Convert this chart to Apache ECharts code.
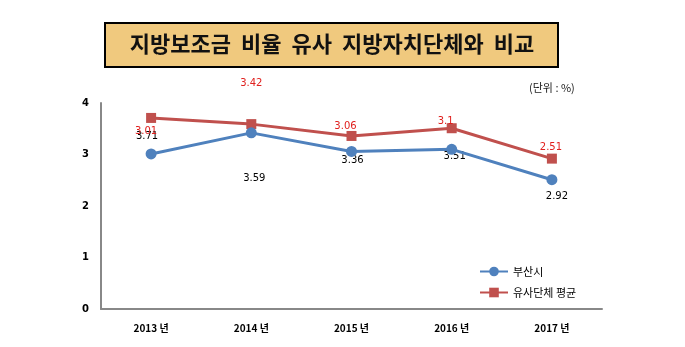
<!DOCTYPE html>
<html>
<head>
<meta charset="utf-8">
<script src="https://cdn.jsdelivr.net/npm/echarts@6/dist/echarts.min.js"></script>
<style>
html,body{margin:0;padding:0;background:#fff;}
#c{width:685px;height:347px;}
</style>
</head>
<body>
<div id="c"></div>
<script>
const categories = ['2013 년', '2014 년', '2015 년', '2016 년', '2017 년'];
const busanValues = [3.01, 3.42, 3.06, 3.1, 2.51];
const similarAvgValues = [3.71, 3.59, 3.36, 3.51, 2.92];
const seriesNames = ['부산시', '유사단체 평균'];
const yTicks = [0, 1, 2, 3, 4];
const titleText = '지방보조금  비율  유사  지방자치단체와  비교';
const unitText = '(단위 : %)';

// label placement (style only)
const busanLabelOffsets = [[-5, -23], [0, -49], [-6, -25], [-6, -28], [-1, -32]];
const avgLabelOffsets = [[-4, 18], [3, 54], [1, 24], [3, 28], [5, 38]];

const chart = echarts.init(document.getElementById('c'), null, {renderer: 'canvas'});
const labelFont = 'DejaVu Sans, Verdana, sans-serif';
const korFont = '"Noto Sans CJK KR", "Noto Sans", sans-serif';

function items(vals, offs, color) {
  return vals.map((v, i) => ({
    value: v,
    label: {show: true, position: 'inside', offset: offs[i], color: color,
            fontSize: 10, fontFamily: labelFont, formatter: '{c}'}
  }));
}

chart.setOption({
  animation: false,
  backgroundColor: '#fff',
  graphic: [
    {type: 'rect', left: 104, top: 22, shape: {width: 453, height: 44},
     style: {fill: '#F0C97E', stroke: '#000', lineWidth: 2}, z: 10},
    {type: 'text', x: 332, y: 44, z: 11,
     style: {text: titleText, fill: '#111', font: 'bold 22px ' + korFont,
             textAlign: 'center', textVerticalAlign: 'middle'}},
    {type: 'text', left: 529, top: 82, z: 11,
     style: {text: unitText, fill: '#1a1a1a', font: '11px ' + korFont}}
  ],
  grid: {left: 101, right: 83, top: 103, bottom: 38, containLabel: false},
  legend: {
    orient: 'vertical', left: 474, top: 261, itemGap: 10,
    itemWidth: 28, itemHeight: 12,
    textStyle: {fontSize: 11, fontFamily: korFont, color: '#000'},
    data: seriesNames
  },
  xAxis: {
    type: 'category', data: categories, boundaryGap: true,
    axisLine: {lineStyle: {color: '#888', width: 2}},
    axisTick: {show: false},
    axisLabel: {fontSize: 10, fontWeight: 'bold', color: '#000', fontFamily: korFont, margin: 14}
  },
  yAxis: {
    type: 'value', min: yTicks[0], max: yTicks[yTicks.length - 1], interval: 1,
    axisLine: {show: true, lineStyle: {color: '#888', width: 2}},
    axisTick: {show: false},
    splitLine: {show: false},
    axisLabel: {fontSize: 10, fontWeight: 'bold', color: '#000', fontFamily: labelFont, margin: 12}
  },
  series: [
    {
      name: seriesNames[0], type: 'line', data: items(busanValues, busanLabelOffsets, '#E0201E'),
      symbol: 'circle', symbolSize: 11,
      lineStyle: {color: '#4F81BD', width: 3},
      itemStyle: {color: '#4F81BD'}, z: 3
    },
    {
      name: seriesNames[1], type: 'line', data: items(similarAvgValues, avgLabelOffsets, '#000'),
      symbol: 'rect', symbolSize: 10,
      lineStyle: {color: '#C0504D', width: 3},
      itemStyle: {color: '#C0504D'}, z: 2
    }
  ]
});
</script>
</body>
</html>
